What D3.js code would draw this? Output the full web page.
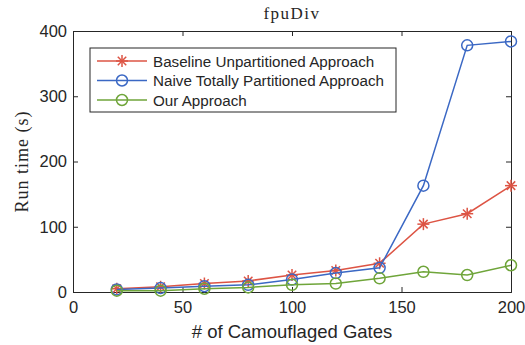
<!DOCTYPE html>
<html lang="en">
<head>
<meta charset="UTF-8">
<title>fpuDiv</title>
<script src="https://cdn.jsdelivr.net/npm/d3@7"></script>
<style>
  body { margin: 0; background: #fff; }
  text { fill: #262626; }
</style>
</head>
<body>
<svg id="main" width="525" height="345"></svg>
<script>
    const gates = [20, 40, 60, 80, 100, 120, 140, 160, 180, 200];
    const baseline = [5, 8, 13, 17, 26, 33, 44, 104, 120, 163];
    const naive = [4, 6, 9, 11, 19, 29, 37, 163, 378, 384];
    const ours = [2, 2, 5, 7, 11, 13, 21, 31, 26, 41];
    const xTicks = [0, 50, 100, 150, 200];
    const yTicks = [0, 100, 200, 300, 400];
    const seriesNames = ["Baseline Unpartitioned Approach", "Naive Totally Partitioned Approach", "Our Approach"];

    const plotL = 73, plotR = 511, plotT = 31, plotB = 292;
    const svg = d3.select("#main");
    const sans = "'Liberation Sans', Arial, sans-serif";
    const serif = "'Liberation Serif', 'Times New Roman', serif";

    const x = d3.scaleLinear().domain([0, 200]).range([plotL, plotR]);
    const y = d3.scaleLinear().domain([0, 400]).range([plotB, plotT]);

    // box + inward ticks on all sides
    svg.append("g").attr("transform", `translate(0,${plotB})`)
        .call(d3.axisBottom(x).tickValues(xTicks).tickSize(-5).tickPadding(9))
        .call(g => g.select(".domain").attr("stroke", "#262626"))
        .call(g => g.selectAll("text").attr("font-family", sans).attr("font-size", 16.5).attr("fill", "#262626"));
    svg.append("g").attr("transform", `translate(0,${plotT})`)
        .call(d3.axisTop(x).tickValues(xTicks).tickSize(-5).tickFormat(""))
        .call(g => g.select(".domain").attr("stroke", "#262626"));
    svg.append("g").attr("transform", `translate(${plotL},0)`)
        .call(d3.axisLeft(y).tickValues(yTicks).tickSize(-5).tickPadding(6))
        .call(g => g.select(".domain").attr("stroke", "#262626"))
        .call(g => g.selectAll("text").attr("font-family", sans).attr("font-size", 16.5).attr("fill", "#262626"));
    svg.append("g").attr("transform", `translate(${plotR},0)`)
        .call(d3.axisRight(y).tickValues(yTicks).tickSize(-5).tickFormat(""))
        .call(g => g.select(".domain").attr("stroke", "#262626"));
    svg.selectAll(".tick line").attr("stroke", "#262626");

    // titles
    svg.append("text").attr("x", (plotL + plotR) / 2).attr("y", 19).attr("text-anchor", "middle")
        .attr("font-family", serif).attr("font-size", 17).attr("letter-spacing", 1.5).text("fpuDiv");
    svg.append("text").attr("x", (plotL + plotR) / 2).attr("y", 338).attr("text-anchor", "middle")
        .attr("font-family", sans).attr("font-size", 18.5).text("# of Camouflaged Gates");
    svg.append("text").attr("transform", `translate(28,${(plotT + plotB) / 2}) rotate(-90)`)
        .attr("text-anchor", "middle").attr("font-family", serif).attr("font-size", 18)
        .attr("letter-spacing", 1).text("Run time (s)");

    const series = [
        { name: seriesNames[0], values: baseline, color: "#dd5444", marker: "star" },
        { name: seriesNames[1], values: naive, color: "#3b68c4", marker: "circle" },
        { name: seriesNames[2], values: ours, color: "#6fa53a", marker: "circle" }
    ];

    function drawMarker(g, cx, cy, s) {
        if (s.marker === "circle") {
            g.append("circle").attr("cx", cx).attr("cy", cy).attr("r", 5.5)
                .attr("fill", "none").attr("stroke", s.color).attr("stroke-width", 1.5);
        } else {
            const r = 6;
            for (let a = 0; a < 4; a++) {
                const ang = a * Math.PI / 4;
                g.append("line")
                    .attr("x1", cx - r * Math.cos(ang)).attr("y1", cy - r * Math.sin(ang))
                    .attr("x2", cx + r * Math.cos(ang)).attr("y2", cy + r * Math.sin(ang))
                    .attr("stroke", s.color).attr("stroke-width", 1.5);
            }
        }
    }

    const line = d3.line().x(d => x(d[0])).y(d => y(d[1]));
    series.forEach(s => {
        const pts = gates.map((g, i) => [g, s.values[i]]);
        svg.append("path").datum(pts).attr("d", line)
            .attr("fill", "none").attr("stroke", s.color).attr("stroke-width", 1.5);
        const mg = svg.append("g");
        pts.forEach(p => drawMarker(mg, x(p[0]), y(p[1]), s));
    });

    // legend
    const lg = svg.append("g");
    lg.append("rect").attr("x", 90).attr("y", 48).attr("width", 306).attr("height", 64)
        .attr("fill", "#fff").attr("stroke", "#262626").attr("stroke-width", 1);
    series.forEach((s, i) => {
        const ly = 61 + i * 19.5;
        lg.append("line").attr("x1", 97).attr("x2", 147).attr("y1", ly).attr("y2", ly)
            .attr("stroke", s.color).attr("stroke-width", 1.5);
        drawMarker(lg, 122, ly, s);
        lg.append("text").attr("x", 153).attr("y", ly + 5.5).attr("font-family", sans)
            .attr("font-size", 15.2).text(s.name);
    });
</script>
</body>
</html>
